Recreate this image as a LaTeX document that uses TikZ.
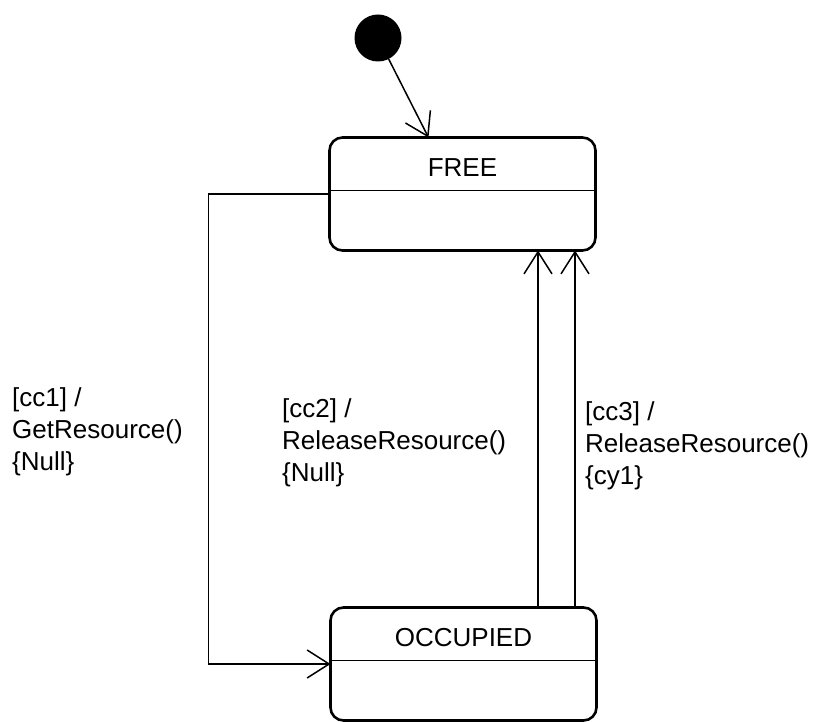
\documentclass[tikz,border=0pt]{standalone}
\usepackage{fontspec}
\setmainfont{Liberation Sans}
\usetikzlibrary{arrows.meta,calc}

\begin{document}
\begin{tikzpicture}[x=1pt,y=-1pt,
  state/.style={draw, line width=2.6pt, rounded corners=13pt, outer sep=0pt,
    minimum width=266pt, minimum height=113pt, inner sep=0pt},
  stitle/.style={font=\fontsize{26}{32}\selectfont, inner sep=0pt},
  conn/.style={line width=1.5pt},
  barb/.style={-{Straight Barb[length=22pt,width=28pt,line width=1.5pt]}},
  % base anchor of a multi-line node sits on its last line
  lbl/.style={font=\fontsize{26}{32}\selectfont, align=left, anchor=base west, inner sep=0pt},
]
\useasboundingbox (0,0) rectangle (831,722);

% initial pseudo-state
\node[circle, fill=black, minimum size=47pt, inner sep=0pt] (init) at (378,38) {};

% states
\node[state] (free) at (462.5,194) {};
\node[state] (occ) at (463.5,664) {};
\node[stitle] (freet) at ($(free.north)+(0,30)$) {FREE};
\node[stitle] (occt) at ($(occ.north)+(0,30)$) {OCCUPIED};
\draw[conn] ($(free.north west)+(0,53)$) -- ($(free.north east)+(0,53)$);
\draw[conn] ($(occ.north west)+(0,53)$) -- ($(occ.north east)+(0,53)$);

% transitions
\draw[conn,barb] (init) -- ($(free.north)+(-34,0)$);
\draw[conn,barb] (free.west) -- ++(-121,0) |- (occ.west);
\coordinate (ua) at (538,0);
\coordinate (ub) at (575,0);
\draw[conn,barb] (ua |- occ.north) -- (ua |- free.south);
\draw[conn,barb] (ub |- occ.north) -- (ub |- free.south);

% guard / action labels
\node[lbl] (l1) at (12,470) {[cc1] /\\GetResource()\\\{Null\}};
\node[lbl] (l2) at (282,481) {[cc2] /\\ReleaseResource()\\\{Null\}};
\node[lbl] (l3) at (585,484) {[cc3] /\\ReleaseResource()\\\{cy1\}};
\end{tikzpicture}
\end{document}
